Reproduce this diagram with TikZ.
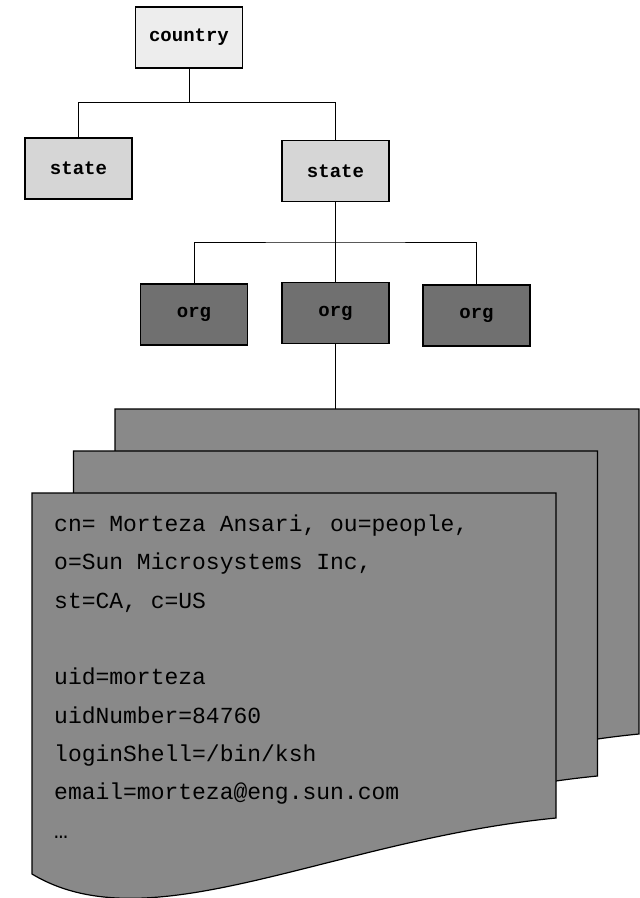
\documentclass[tikz,border=0pt]{standalone}
\usepackage{fontspec}
\newfontfamily\typefont{Liberation Mono}
\definecolor{DIRlight}{HTML}{EDEDED}
\definecolor{DIRstate}{HTML}{D6D6D6}
\definecolor{DIRorg}{HTML}{707070}
\definecolor{DIRpage}{HTML}{898989}
\usetikzlibrary{positioning}

\begin{document}
\begin{tikzpicture}[x=1pt, y=-1pt,
   dirbox/.style={draw, line width=1.2pt, minimum width=107pt, minimum height=61pt,
      inner sep=0pt, font=\typefont\bfseries\fontsize{19}{19}\selectfont},
   link/.style={line width=1pt}]
            \useasboundingbox (0,0) rectangle (640,898);
            % Tree: country -> state -> org
            \node[dirbox, fill=DIRlight] (country) at (189,37.5) {country};
            \node[dirbox, fill=DIRstate] (stateL) at (78.5,168.5) {state};
            \node[dirbox, fill=DIRstate] (stateR) at (335.5,171) {state};
            \node[dirbox, fill=DIRorg] (orgL) at (194,314.5) {org};
            \node[dirbox, fill=DIRorg] (orgM) at (335.5,313) {org};
            \node[dirbox, fill=DIRorg] (orgR) at (476.5,315.5) {org};
            % Bus lines
            \coordinate (bus1) at (189,102);
            \coordinate (bus2) at (335.5,242);
            \draw[link] (country.south) -- (bus1) -| (stateL.north);
            \draw[link] (bus1) -| (stateR.north);
            \draw[link] (stateR.south) -- (orgM.north);
            \draw[link] (orgL.north) |- (bus2) -| (orgR.north);
            % Stack of entry pages (back to front)
            \foreach \dx/\dy in {83/-84, 41.5/-42, 0/0}
               \draw[line width=1.2pt, fill=DIRpage, shift={(32+\dx,493+\dy)}]
                  (0,0) -- (524,0) -- (524,325)
                  .. controls (298,347) and (118,452) .. (0,381) -- cycle;
            \coordinate (pagetop) at (335.5,409);
            \draw[link] (orgM.south) -- (pagetop);
            % Entry text (anchored on its last line)
            \node[anchor=base west, inner sep=0pt, align=left,
               font=\typefont\fontsize{23}{38.3}\selectfont] (entry) at (54,838)
               {cn= Morteza Ansari, ou=people,\\ o=Sun Microsystems Inc,\\ st=CA, c=US\\ ~\\
                uid=morteza\\ uidNumber=84760\\ loginShell=/bin/ksh\\
                email=morteza@eng.sun.com\\ …};
\end{tikzpicture}
\end{document}
